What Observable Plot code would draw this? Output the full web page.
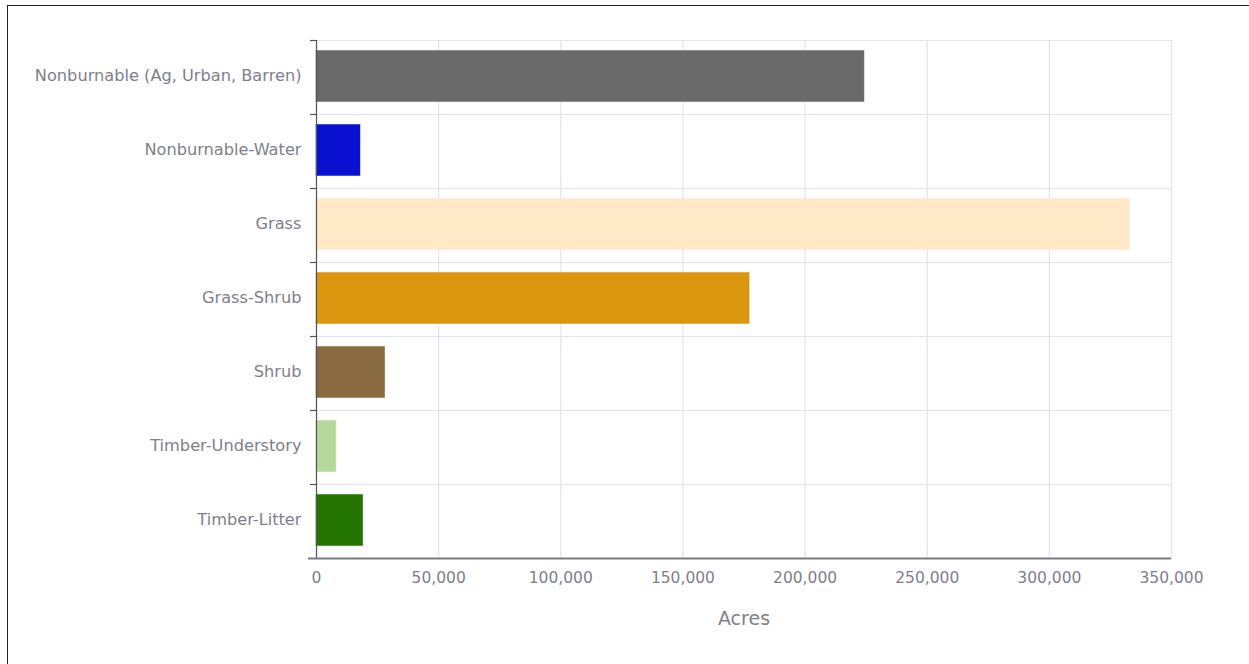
<!DOCTYPE html>
<html>
<head>
<meta charset="utf-8">
<script src="https://cdn.jsdelivr.net/npm/d3@7"></script>
<script src="https://cdn.jsdelivr.net/npm/@observablehq/plot@0.6"></script>
<style>
  html, body { margin: 0; padding: 0; background: #fff; overflow: hidden; }
  #frame { position: absolute; left: 7px; top: 5px; width: 1300px; height: 700px; border: 1.5px solid #222; box-sizing: border-box; }
  #chart { position: absolute; left: 0; top: 0; }
  #chart svg text { font-family: "DejaVu Sans", sans-serif; }
</style>
</head>
<body>
<div id="frame"></div>
<div id="chart"></div>
<script>
const categories = [
  "Nonburnable (Ag, Urban, Barren)",
  "Nonburnable-Water",
  "Grass",
  "Grass-Shrub",
  "Shrub",
  "Timber-Understory",
  "Timber-Litter"
];
const acres = [224300, 18000, 332900, 177300, 28100, 8100, 19100];
const barColors = ["#696969", "#0a10d0", "#ffe9c6", "#dc960f", "#8a6a40", "#b4d99b", "#237400"];
const xTicks = [0, 50000, 100000, 150000, 200000, 250000, 300000, 350000];

const data = categories.map((c, i) => ({category: c, idx: i, acres: acres[i], color: barColors[i]}));
const boundaries = d3.range(categories.length + 1);

const gridColor = "#e0e4f0";
const textColor = "#80808a";

const chart = Plot.plot({
  width: 1249,
  height: 664,
  marginLeft: 316,
  marginRight: 78,
  marginTop: 40,
  marginBottom: 106,
  style: {background: "transparent", color: textColor, fontSize: "15px"},
  x: {domain: [0, 350000], label: null},
  y: {domain: [0, categories.length], reverse: true, label: null},
  color: {type: "identity"},
  marks: [
    Plot.ruleX(xTicks, {stroke: gridColor, strokeWidth: 1.2}),
    Plot.ruleY(boundaries, {stroke: gridColor, strokeWidth: 1.2}),
    Plot.rectX(data, {
      x1: 0, x2: "acres",
      y1: "idx", y2: d => d.idx + 1,
      fill: "color", stroke: "color", strokeOpacity: 0.5, strokeWidth: 1,
      insetTop: 10.5, insetBottom: 12.5
    }),
    Plot.ruleY(boundaries.slice(0, -1), {x1: 0, x2: 0, insetLeft: -6, stroke: "#555", strokeWidth: 1.2}),
    Plot.ruleX([0], {stroke: "#555", strokeWidth: 1.2}),
    Plot.ruleY([categories.length], {x1: 0, x2: 350000, insetLeft: -8, stroke: "#7a7a84", strokeWidth: 2}),
    Plot.axisY(categories.map((c, i) => i + 0.5), {
      tickSize: 0, tickPadding: 15, fontSize: 16.2, dy: -2,
      tickFormat: v => categories[Math.floor(v)], label: null
    }),
    Plot.axisX(xTicks, {
      tickSize: 0, tickPadding: 13, fontSize: 15.5,
      tickFormat: d3.format(","), label: null
    }),
    Plot.text(["Acres"], {frameAnchor: "bottom", dy: 66, fontSize: 19, fill: textColor})
  ]
});
document.getElementById("chart").appendChild(chart);
</script>
</body>
</html>
